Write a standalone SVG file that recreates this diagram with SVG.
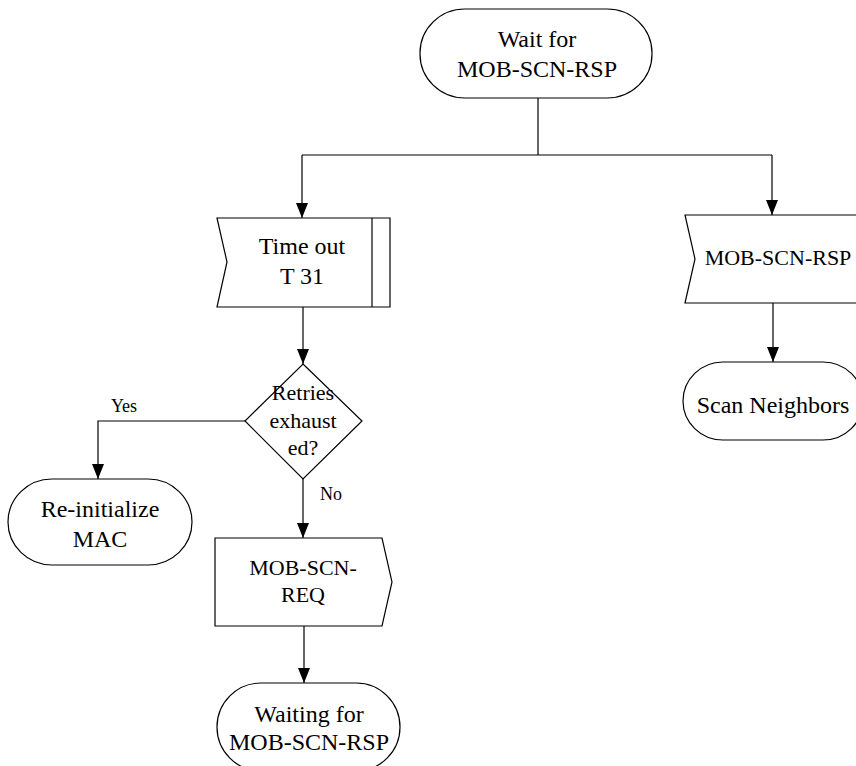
<svg xmlns="http://www.w3.org/2000/svg" width="856" height="766" viewBox="0 0 856 766">
<style>
.s{fill:#fff;stroke:#000;stroke-width:1.2}
.c{fill:none;stroke:#000;stroke-width:1.2}
text{fill:#000;text-anchor:middle;font-family:"Liberation Serif","Times New Roman",serif}
.b{font-size:24px}
.m{font-size:22px}
.l{font-size:18px}
</style>
<defs>
<marker id="ah" markerUnits="userSpaceOnUse" markerWidth="15" markerHeight="12" refX="15" refY="6" viewBox="0 0 15 12" orient="auto">
<path d="M0,0 L15,6 L0,12 Z" fill="#000"/>
</marker>
</defs>
<g id="connectors">
<path class="c" d="M538,98 V155"/>
<path class="c" d="M302,155 H772"/>
<path class="c" d="M302,155 V218" marker-end="url(#ah)"/>
<path class="c" d="M772,155 V215" marker-end="url(#ah)"/>
<path class="c" d="M303,307 V364" marker-end="url(#ah)"/>
<path class="c" d="M773,303 V362" marker-end="url(#ah)"/>
<path class="c" d="M245,421 H98 V479" marker-end="url(#ah)"/>
<path class="c" d="M303,479 V538" marker-end="url(#ah)"/>
<path class="c" d="M304,626 V683" marker-end="url(#ah)"/>
<text class="l" x="124" y="412">Yes</text>
<text class="l" x="331" y="500">No</text>
</g>
<g id="wait">
<rect class="s" x="420" y="9" width="232" height="89" rx="45" ry="44"/>
<text class="b" x="537" y="47">Wait for</text>
<text class="b" x="537" y="77">MOB-SCN-RSP</text>
</g>
<g id="timeout">
<path class="s" d="M217,218 H390 V307 H217 L227,262 Z"/>
<path class="c" d="M372,218 V307"/>
<text class="b" x="302" y="254">Time out</text>
<text class="b" x="302" y="284">T 31</text>
</g>
<g id="rsp">
<path class="s" d="M685,215 H862 V303 H685 L695,259 Z"/>
<text class="m" x="778" y="265">MOB-SCN-RSP</text>
</g>
<g id="scan">
<rect class="s" x="683" y="362" width="180" height="78" rx="40" ry="39"/>
<text class="b" x="773" y="413">Scan Neighbors</text>
</g>
<g id="retries">
<path class="s" d="M303,364 L362,421 L303,479 L245,421 Z"/>
<text class="m" x="303" y="400">Retries</text>
<text class="m" x="303" y="428">exhaust</text>
<text class="m" x="303" y="455">ed?</text>
</g>
<g id="reinit">
<rect class="s" x="8" y="479" width="184" height="86" rx="44" ry="43"/>
<text class="b" x="100" y="517">Re-initialize</text>
<text class="b" x="100" y="547">MAC</text>
</g>
<g id="req">
<path class="s" d="M215,538 H382 L392,582 L382,626 H215 Z"/>
<text class="m" x="303" y="575">MOB-SCN-</text>
<text class="m" x="303" y="602">REQ</text>
</g>
<g id="waiting">
<rect class="s" x="217" y="683" width="183" height="88" rx="44" ry="44"/>
<text class="b" x="309" y="722">Waiting for</text>
<text class="b" x="309" y="750">MOB-SCN-RSP</text>
</g>
</svg>
